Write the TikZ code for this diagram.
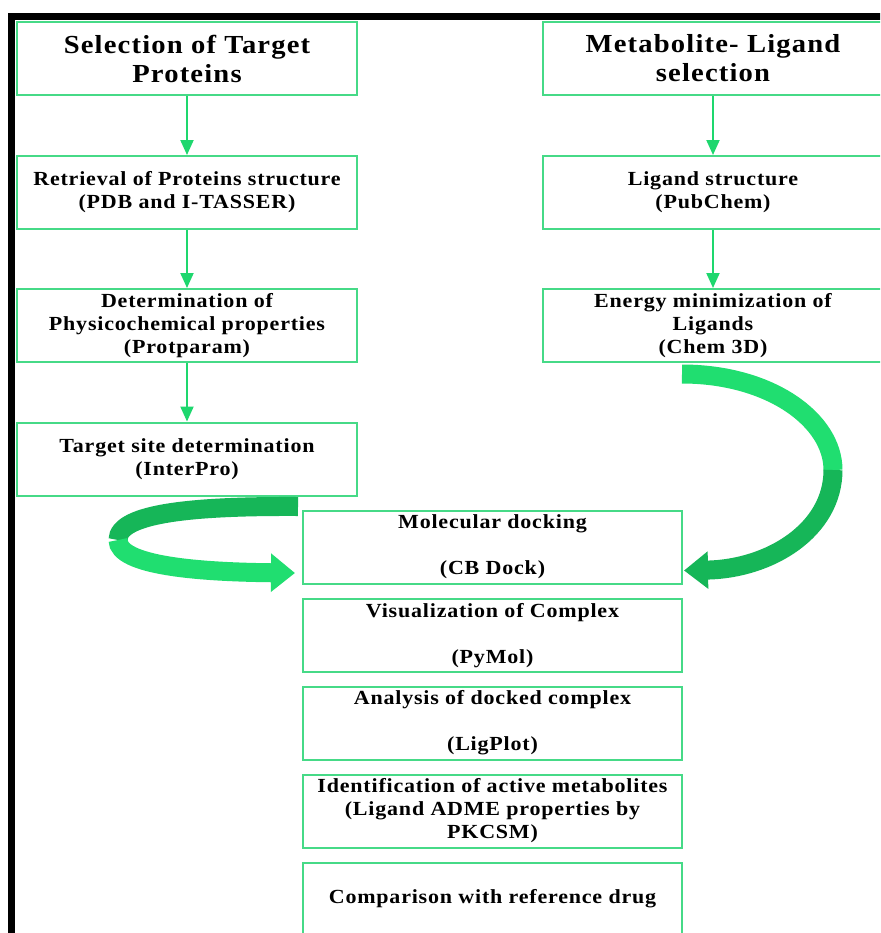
\documentclass[tikz,border=0pt]{standalone}
\usepackage{fontspec}
\setmainfont{Liberation Serif}
\newfontfamily\boxfont[FakeStretch=1.1,LetterSpace=4]{Liberation Serif}
\newfontfamily\titlefont[FakeStretch=1.1,LetterSpace=4.5]{Liberation Serif}
\usetikzlibrary{arrows.meta,calc}
\definecolor{boxgreen}{RGB}{70,218,135}
\definecolor{flowgreen}{RGB}{30,215,110}
\definecolor{ribbonlight}{RGB}{32,222,112}
\definecolor{ribbondark}{RGB}{22,182,88}
\begin{document}
\begin{tikzpicture}[x=0.5pt,y=-0.5pt,
	box/.style={draw=boxgreen, line width=1pt, fill=white, align=center, inner sep=0pt,
		minimum height=36.5pt, font=\boxfont\bfseries\fontsize{10}{11.5}\selectfont},
	sidebox/.style={box, minimum width=170pt},
	midbox/.style={box, minimum width=189.5pt},
	titlebox/.style={sidebox, font=\titlefont\bfseries\fontsize{13}{14.5}\selectfont},
	flow/.style={draw=flowgreen, line width=1pt, -{Triangle[length=7.5pt,width=6.5pt]}},
	ribbon/.style={line width=9.5pt, line cap=butt}]
	\clip (0,0) rectangle (880,933);
	\fill[white] (0,0) rectangle (880,933);
	\draw[line width=3.5pt] (11.5,940) -- (11.5,16.5) -- (890,16.5);
	
	\node[titlebox] (sel) at (187,58.5) {Selection of Target\\Proteins};
	\node[titlebox] (lig) at (713,58.5) {Metabolite- Ligand\\selection};
	\node[sidebox] (ret) at (187,192.5) {Retrieval of Proteins structure\\(PDB and I-TASSER)};
	\node[sidebox] (str) at (713,192.5) {Ligand structure\\(PubChem)};
	\node[sidebox] (phy) at (187,325.5) {Determination of\\Physicochemical properties\\(Protparam)};
	\node[sidebox] (enm) at (713,325.5) {Energy minimization of\\Ligands\\(Chem 3D)};
	\node[sidebox] (tsd) at (187,459) {Target site determination\\(InterPro)};
	\node[midbox] (dock) at (492.5,547) {Molecular docking\\[11.5pt](CB Dock)};
	\node[midbox] (vis) at (492.5,635.5) {Visualization of Complex\\[11.5pt](PyMol)};
	\node[midbox] (ana) at (492.5,723) {Analysis of docked complex\\[11.5pt](LigPlot)};
	\node[midbox] (act) at (492.5,811) {Identification of active metabolites\\(Ligand ADME properties by\\PKCSM)};
	\node[midbox] (cmp) at (492.5,899) {Comparison with reference drug};
	
	\draw[flow] (sel) -- (ret);
	\draw[flow] (ret) -- (phy);
	\draw[flow] (phy) -- (tsd);
	\draw[flow] (lig) -- (str);
	\draw[flow] (str) -- (enm);
	
	\coordinate (lturn) at (118,540);
	\coordinate (rturn) at (833,470);
	\draw[ribbon, ribbondark] ($(tsd.south east)+(-60,10)$) .. controls (200,506) and (118,512) .. (lturn);
	\draw[ribbon, ribbonlight, -{Triangle[length=12pt,width=18.5pt]}] (lturn) .. controls (118,566) and (200,572) .. ($(dock.west)+(-7,26)$);
	\draw[ribbon, ribbonlight] ($(enm.south)+(-31,11)$) .. controls (770,374) and (833,420) .. (rturn);
	\draw[ribbon, ribbondark, -{Triangle[length=12pt,width=18pt]}] (rturn) .. controls (833,530) and (770,569) .. ($(dock.east)+(1,23.5)$);
\end{tikzpicture}
\end{document}
